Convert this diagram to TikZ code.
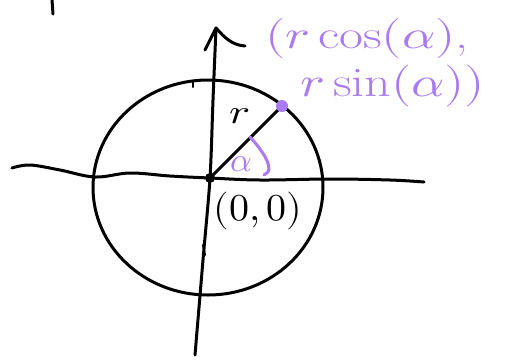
\documentclass[tikz,border=0pt]{standalone}
\usepackage{unicode-math}
\setmathfont{Latin Modern Math}
\definecolor{lav}{RGB}{170,122,240}
\tikzset{
  ink/.style={line width=3pt, line cap=round, line join=round, black},
  pink/.style={line width=3pt, line cap=round, line join=round, lav},
  lbl/.style={inner sep=0pt, font=\fontsize{34}{36}\selectfont},
  big/.style={inner sep=0pt, font=\fontsize{40}{42}\selectfont},
}
\begin{document}
\begin{tikzpicture}[x=1pt,y=-1pt]
\useasboundingbox (0,0) rectangle (516,360);
% stray tick
\draw[ink] (52,0) -- (53,14);
% horizontal axis
\draw[ink] plot[smooth, tension=0.6] coordinates {(12,168) (30,165) (60,170) (95,177) (130,173) (170,176) (210,178) (260,180) (330,179) (390,180) (424,182)};
% vertical axis
\coordinate (top) at (216,28);
\coordinate (O) at (210,178);
\coordinate (bot) at (195,355);
\draw[ink] plot[smooth, tension=0.5] coordinates {(top) (213,100) (O) (203,260) (bot)};
\draw[ink] (205,50) -- (top) .. controls (225,38) and (232,45) .. (245,46);
% circle
\draw[ink] (208,187.5) ellipse [x radius=115, y radius=107.5];
% small ticks
\draw[ink, line width=2pt] (193,81) -- (193,87);
\draw[ink, line width=2pt] (203,245) -- (205,255);
% radius
\coordinate (P) at (282,106);
\draw[ink] (O) -- (P);
\fill (O) circle (5);
\fill[lav] (P) circle (6);
% angle arc
\draw[pink] (250,137) .. controls (262,150) and (272,165) .. (268,172) -- (264,175);
% labels
\node[lbl] (r) at (240,116) {\scalebox{1.3}[1]{$r$}};
\node[lbl, lav] (a) at (241,164) {$\alpha$};
\node[big] (z) at (258,211) {\scalebox{1}[0.95]{$(0,0)$}};
\node[big, lav, anchor=west] (c1) at (265,38) {\scalebox{1.3}[1]{$(r\cos(\alpha)$,}};
\node[big, lav, anchor=west] (c2) at (300,86) {\scalebox{1.3}[1.05]{$r\sin(\alpha))$}};
\end{tikzpicture}
\end{document}
